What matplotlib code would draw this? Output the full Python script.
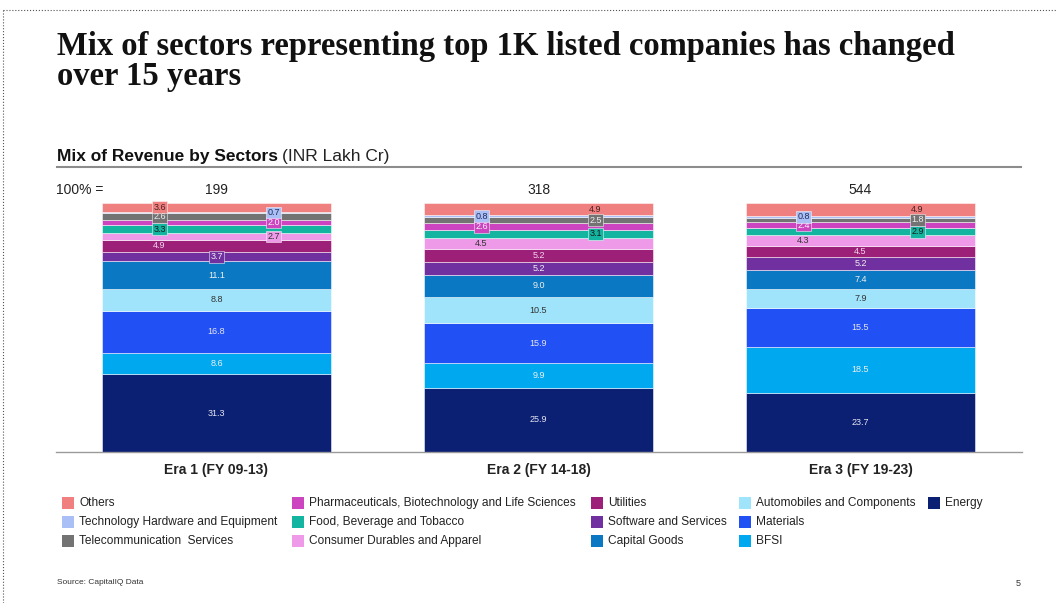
import matplotlib as mpl
mpl.use('Agg')
import matplotlib.pyplot as plt
from matplotlib.patches import Rectangle
from matplotlib.lines import Line2D

W, H = 1056, 603

# sectors, bottom of the stack first
sectors = ['Energy', 'BFSI', 'Materials', 'Automobiles and Components',
           'Capital Goods', 'Software and Services', 'Utilities',
           'Consumer Durables and Apparel', 'Food, Beverage and Tobacco',
           'Pharmaceuticals, Biotechnology and Life Sciences',
           'Telecommunication  Services', 'Technology Hardware and Equipment',
           'Others']

eras = ['Era 1 (FY 09-13)', 'Era 2 (FY 14-18)', 'Era 3 (FY 19-23)']
totals = [199, 318, 544]

era1 = [31.3, 8.6, 16.8, 8.8, 11.1, 3.7, 4.9, 2.7, 3.3, 2.0, 2.6, 0.7, 3.6]
era2 = [25.9, 9.9, 15.9, 10.5, 9.0, 5.2, 5.2, 4.5, 3.1, 2.6, 2.5, 0.8, 4.9]
era3 = [23.7, 18.5, 15.5, 7.9, 7.4, 5.2, 4.5, 4.3, 2.9, 2.4, 1.8, 0.8, 4.9]
values = [era1, era2, era3]

colors = ['#0b1f73', '#00a8f0', '#2150f5', '#9fe4fb', '#0a78c2', '#7030a0',
          '#9c1f78', '#ee9ae8', '#13b5a0', '#cc44c0', '#737373', '#aabff5',
          '#f08080']
text_colors = ['#e6e6f2', '#f0f0f0', '#e6e6f2', '#333333', '#f0f0f0', '#f0f0f0',
               '#f3d6ee', '#333333', '#1a1a1a', '#f5f5f5', '#eeeeee', '#1f2d5a',
               '#4a2020']

# where the small labels sit: L / R of the bar middle, else centred
placement = [
    {'Others': 'L', 'Technology Hardware and Equipment': 'R',
     'Telecommunication  Services': 'L',
     'Pharmaceuticals, Biotechnology and Life Sciences': 'R',
     'Food, Beverage and Tobacco': 'L', 'Consumer Durables and Apparel': 'R',
     'Utilities': 'L'},
    {'Others': 'R', 'Technology Hardware and Equipment': 'L',
     'Telecommunication  Services': 'R',
     'Pharmaceuticals, Biotechnology and Life Sciences': 'L',
     'Food, Beverage and Tobacco': 'R', 'Consumer Durables and Apparel': 'L'},
    {'Others': 'R', 'Technology Hardware and Equipment': 'L',
     'Telecommunication  Services': 'R',
     'Pharmaceuticals, Biotechnology and Life Sciences': 'L',
     'Food, Beverage and Tobacco': 'R', 'Consumer Durables and Apparel': 'L'},
]
shift = {'L': -0.177, 'R': 0.177, 'C': 0.0}

sans = 'Liberation Sans'
plt.rcParams['font.family'] = [sans, 'DejaVu Sans']


def fx(x):
    return x / W


def fy(y):
    return 1 - y / H


fig = plt.figure(figsize=(W / 100, H / 100), dpi=100)
fig.patch.set_facecolor('white')

# plot area: x -0.5..2.5 spans px 55.5..1021.5, y 0..100 spans px 452..203
ax = fig.add_axes([fx(55.5), fy(452), (1021.5 - 55.5) / W, (452 - 203) / H])
ax.set_xlim(-0.5, 2.5)
ax.set_ylim(0, 100)
ax.axis('off')

x = [0, 1, 2]
bar_w = 0.711
for i in range(3):
    bottom = 0
    for j, s in enumerate(sectors):
        v = values[i][j]
        ax.bar(x[i], v, bar_w, bottom=bottom, color=colors[j],
               edgecolor=(1, 1, 1, 0.6), linewidth=0.6, clip_on=False)
        pos = placement[i].get(s, 'C')
        box = None
        if v < 4:
            box = dict(boxstyle='square,pad=0.15', facecolor=colors[j],
                       edgecolor=(1, 1, 1, 0.7), linewidth=0.5)
        ax.text(x[i] + shift[pos], bottom + v / 2, f'{v:.1f}', ha='center',
                va='center', fontsize=6.5, color=text_colors[j], bbox=box,
                clip_on=False)
        bottom += v

# baseline
ax.axhline(0, color='#9a9a9a', linewidth=1.0, xmin=0, xmax=1, clip_on=False)

# totals and era labels
for i in range(3):
    ax.text(x[i], 105.2, str(totals[i]), ha='center', va='center', fontsize=10,
            color='#222222')
    ax.text(x[i], -4.5, eras[i], ha='center', va='top', fontsize=10,
            fontweight='bold', color='#222222')
fig.text(fx(103), fy(190), '100% =', ha='right', va='center', fontsize=10,
         color='#222222')

# title block
serif = ['Liberation Serif', 'DejaVu Serif']
fig.text(fx(57), fy(46), 'Mix of sectors representing top 1K listed companies has changed',
         fontsize=23.5, fontweight='bold', family=serif,
         va='center', ha='left', color='#111111')
fig.text(fx(57), fy(77), 'over 15 years', fontsize=23.5, fontweight='bold',
         family=serif, va='center', ha='left', color='#111111')
t = fig.text(fx(57), fy(157), 'Mix of Revenue by Sectors', fontsize=12.5,
             fontweight='bold', va='center', ha='left', color='#111111')
fig.canvas.draw()
bb = t.get_window_extent()
fig.text(bb.x1 / W + fx(4), fy(157), '(INR Lakh Cr)', fontsize=12.5,
         va='center', ha='left', color='#222222')
fig.add_artist(Line2D([fx(57), fx(1021)], [fy(167), fy(167)],
                      transform=fig.transFigure, color='#8c8c8c', linewidth=1.5))

# legend, column-major with three rows, top of the stack first
leg_cols = [62, 292, 591, 739, 928]
leg_rows = [503, 522, 541]
for k, j in enumerate(reversed(range(len(sectors)))):
    cx = leg_cols[k // 3]
    cy = leg_rows[k % 3]
    fig.add_artist(Rectangle((fx(cx), fy(cy + 6)), 12 / W, 12 / H,
                             transform=fig.transFigure, facecolor=colors[j],
                             edgecolor='none'))
    fig.text(fx(cx + 17), fy(cy), sectors[j], fontsize=8.6, va='center',
             ha='left', color='#222222')

# footer
fig.text(fx(57), fy(583), 'Source: CapitalIQ Data', fontsize=6, va='center',
         ha='left', color='#333333')
fig.text(fx(1018), fy(583), '5', fontsize=6.5, va='center', ha='center',
         color='#333333')

# dotted page frame
fig.add_artist(Line2D([fx(3), fx(1056)], [fy(10), fy(10)], transform=fig.transFigure,
                      color='#555555', linewidth=0.8, linestyle=':'))
fig.add_artist(Line2D([fx(3), fx(3)], [fy(10), fy(603)], transform=fig.transFigure,
                      color='#555555', linewidth=0.8, linestyle=':'))

fig.savefig('out.png', dpi=100)
